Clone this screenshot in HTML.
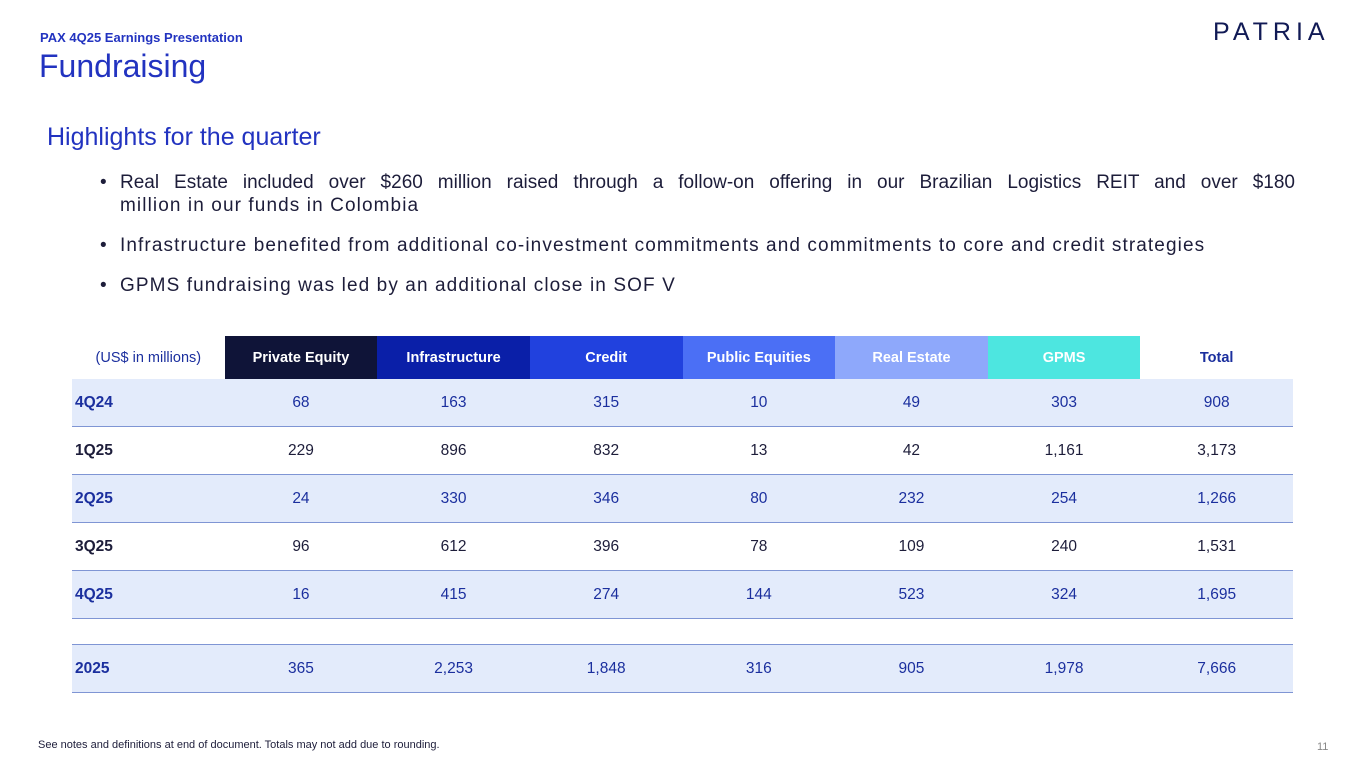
<!DOCTYPE html>
<html><head><meta charset="utf-8"><style>
body{margin:0;width:1365px;height:767px;background:#fff;font-family:"Liberation Sans",sans-serif;position:relative;overflow:hidden}
.a{position:absolute}
table{position:absolute;left:72px;top:336px;border-collapse:collapse;width:1221px;table-layout:fixed}
td{text-align:center;font-size:15.5px;height:47px;border-bottom:1.5px solid #7f95d4;padding:0}
th{height:43px;font-size:14.5px;font-weight:bold;color:#fff;padding:0}
td:first-child{text-align:left;font-weight:bold;padding-left:3px}
tr.s td{background:#e3ebfb;color:#1b2f9e}
tr.w td{background:#fff;color:#1d1d3a}
tr.g td{border:none;height:25px;background:#fff}
</style></head><body>
<div class="a" style="left:40px;top:30px;font-size:13px;font-weight:bold;color:#2233c0">PAX 4Q25 Earnings Presentation</div>
<div class="a" style="left:39px;top:48px;font-size:32px;color:#2233c0">Fundraising</div>
<div class="a" style="left:1213px;top:18px;font-size:25px;color:#111a55;letter-spacing:5px">PATRIA</div>
<div class="a" style="left:47px;top:123px;font-size:25px;color:#2233c0">Highlights for the quarter</div>
<div class="a" style="left:100px;top:171px;width:1195px;font-size:19px;color:#1d1d3a;line-height:23px;letter-spacing:1.1px">
<div style="position:relative;padding-left:20px"><span style="position:absolute;left:0">•</span><span style="display:block;text-align:justify;text-align-last:justify;letter-spacing:0">Real Estate included over $260 million raised through a follow-on offering in our Brazilian Logistics REIT and over $180</span>million in our funds in Colombia</div>
<div style="position:relative;padding-left:20px;margin-top:17px"><span style="position:absolute;left:0">•</span>Infrastructure benefited from additional co-investment commitments and commitments to core and credit strategies</div>
<div style="position:relative;padding-left:20px;margin-top:17px"><span style="position:absolute;left:0">•</span>GPMS fundraising was led by an additional close in SOF V</div>
</div>
<table>
<tr><th style="color:#1b2f9e;font-weight:normal;background:#fff">(US$ in millions)</th><th style="background:#0f1438">Private Equity</th><th style="background:#0a1fa8">Infrastructure</th><th style="background:#2141de">Credit</th><th style="background:#4b6ff5">Public Equities</th><th style="background:#8ea8fb">Real Estate</th><th style="background:#4de6e0">GPMS</th><th style="background:#fff;color:#1b2f9e">Total</th></tr>
<tr class="s"><td>4Q24</td><td>68</td><td>163</td><td>315</td><td>10</td><td>49</td><td>303</td><td>908</td></tr>
<tr class="w"><td>1Q25</td><td>229</td><td>896</td><td>832</td><td>13</td><td>42</td><td>1,161</td><td>3,173</td></tr>
<tr class="s"><td>2Q25</td><td>24</td><td>330</td><td>346</td><td>80</td><td>232</td><td>254</td><td>1,266</td></tr>
<tr class="w"><td>3Q25</td><td>96</td><td>612</td><td>396</td><td>78</td><td>109</td><td>240</td><td>1,531</td></tr>
<tr class="s"><td>4Q25</td><td>16</td><td>415</td><td>274</td><td>144</td><td>523</td><td>324</td><td>1,695</td></tr>
<tr class="g"><td colspan="8" style="border-bottom:1.5px solid #7f95d4"></td></tr>
<tr class="s"><td>2025</td><td>365</td><td>2,253</td><td>1,848</td><td>316</td><td>905</td><td>1,978</td><td>7,666</td></tr>
</table>
<div class="a" style="left:38px;top:739px;font-size:11px;color:#1d1d3a">See notes and definitions at end of document. Totals may not add due to rounding.</div>
<div class="a" style="left:1317px;top:741px;font-size:11px;color:#888">11</div>
</body></html>
